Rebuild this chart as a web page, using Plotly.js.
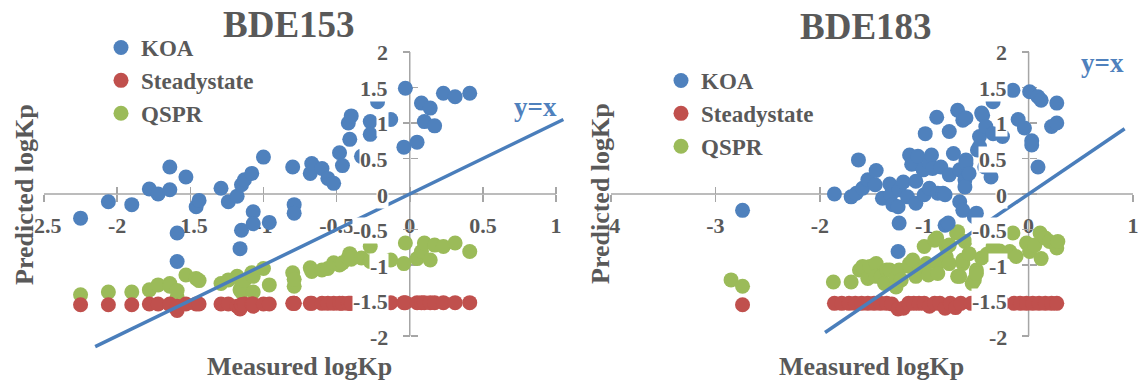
<!DOCTYPE html>
<html>
<head>
<meta charset="utf-8">
<script src="https://cdn.plot.ly/plotly-3.0.1.min.js"></script>
<style>
  html, body { margin: 0; padding: 0; background: #ffffff; }
  #chart { width: 1142px; height: 384px; }
</style>
</head>
<body>
<div id="chart"></div>
<script>
// ---------- BDE153: one measured value per compound, three predictions ----------
const measured153 = [-2.25, -2.06, -1.90, -1.78, -1.72, -1.64, -1.64, -1.59, -1.59, -1.53,
  -1.46, -1.44, -1.29, -1.24, -1.18, -1.16, -1.15, -1.15, -1.13, -1.08,
  -1.07, -1.07, -1.00, -0.96, -0.80, -0.79, -0.79, -0.68, -0.67, -0.60,
  -0.56, -0.52, -0.48, -0.46, -0.41, -0.42, -0.40, -0.33, -0.27, -0.27,
  -0.22, -0.13, -0.04, -0.03, 0.05, 0.08, 0.10, 0.14, 0.17, 0.23, 0.31, 0.41];
const koa153 = [-0.34, -0.11, -0.15, 0.07, 0.00, 0.06, 0.38, -0.55, -0.95, 0.24,
  -0.18, -0.09, 0.08, -0.11, -0.03, -0.77, 0.13, -0.51, 0.20, 0.29,
  -0.25, -0.42, 0.52, -0.40, 0.38, -0.15, -0.27, 0.29, 0.43, 0.36,
  0.22, 0.15, 0.58, 0.40, 0.77, 1.00, 1.10, 0.53, 1.02, 0.84,
  1.30, 1.05, 0.66, 1.49, 0.73, 1.28, 1.02, 1.21, 0.96, 1.42, 1.37, 1.42];
const steady153 = [-1.56, -1.56, -1.56, -1.55, -1.55, -1.55, -1.56, -1.64, -1.58, -1.55,
  -1.55, -1.55, -1.55, -1.55, -1.58, -1.62, -1.56, -1.56, -1.55, -1.55,
  -1.58, -1.55, -1.55, -1.55, -1.54, -1.54, -1.54, -1.54, -1.54, -1.54,
  -1.54, -1.54, -1.54, -1.54, -1.54, -1.54, -1.54, -1.54, -1.54, -1.54,
  -1.54, -1.53, -1.53, -1.53, -1.53, -1.53, -1.53, -1.53, -1.53, -1.53, -1.53, -1.53];
const qspr153 = [-1.42, -1.38, -1.38, -1.35, -1.28, -1.26, -1.30, -1.45, -1.36, -1.14,
  -1.19, -1.22, -1.26, -1.21, -1.16, -1.35, -1.30, -1.38, -1.22, -1.11,
  -1.38, -1.16, -1.05, -1.28, -1.11, -1.30, -1.20, -1.04, -1.09, -1.07,
  -1.05, -0.97, -1.00, -0.97, -0.84, -0.90, -0.92, -0.90, -0.74, -0.95,
  -0.95, -0.93, -0.98, -0.69, -0.91, -0.81, -0.69, -0.93, -0.72, -0.74, -0.69, -0.81];

// ---------- BDE183 ----------
const koaX183 = [-2.74, -1.86, -1.70, -1.65, -1.63, -1.59, -1.54, -1.47, -1.46, -1.40,
  -1.33, -1.32, -1.30, -1.25, -1.25, -1.24, -1.24, -1.20, -1.16, -1.14,
  -1.12, -1.09, -1.08, -1.08, -1.06, -1.01, -1.00, -0.99, -0.95, -0.95,
  -0.93, -0.92, -0.88, -0.87, -0.84, -0.82, -0.80, -0.80, -0.77, -0.76,
  -0.76, -0.72, -0.68, -0.66, -0.66, -0.63, -0.63, -0.61, -0.61, -0.60,
  -0.60, -0.60, -0.57, -0.52, -0.50, -0.49, -0.47, -0.47, -0.45, -0.44,
  -0.42, -0.41, -0.36, -0.34, -0.34, -0.25, -0.15, -0.10, -0.04, 0.01,
  0.03, 0.03, 0.09, 0.09, 0.12, 0.22, 0.27, 0.27];
const koaY183 = [-0.23, 0.00, -0.04, 0.01, 0.48, 0.08, 0.20, 0.13, 0.33, -0.06,
  0.14, -0.01, -0.15, -0.18, -0.81, 0.06, -0.41, 0.17, -0.04, 0.55,
  0.42, 0.43, 0.18, -0.13, 0.53, 0.34, -0.01, 0.85, 0.43, 0.08,
  0.55, 0.36, 1.08, 0.01, 0.38, 0.01, -0.01, -0.44, -0.41, 0.88,
  0.27, 0.57, 1.18, 0.34, -0.11, 1.04, -0.23, 0.20, 0.10, 1.07,
  0.48, 0.43, 0.29, -0.32, -0.27, 0.62, 0.81, 0.67, 1.14, 1.11,
  0.38, 0.95, 0.24, 1.30, 0.85, 0.81, 1.46, 1.05, 0.93, 1.44,
  0.75, 0.69, 1.37, 0.38, 1.32, 0.95, 1.28, 1.00];
const steadyX183 = [-2.74, -1.86, -1.79, -1.72, -1.66, -1.60, -1.54, -1.48, -1.42, -1.36,
  -1.31, -1.25, -1.20, -1.15, -1.10, -1.05, -1.00, -0.95, -0.90, -0.85,
  -0.80, -0.75, -0.70, -0.65, -0.55, -0.45, -0.35, -0.25, -0.14, -0.08,
  -0.02, 0.04, 0.10, 0.16, 0.22, 0.27];
const steadyY183 = [-1.56, -1.54, -1.54, -1.54, -1.54, -1.54, -1.54, -1.54, -1.54, -1.54,
  -1.55, -1.62, -1.61, -1.54, -1.54, -1.54, -1.54, -1.58, -1.54, -1.54,
  -1.61, -1.54, -1.60, -1.54, -1.54, -1.54, -1.54, -1.54, -1.54, -1.54,
  -1.54, -1.54, -1.54, -1.54, -1.54, -1.54];
const qsprX183 = [-2.85, -2.74, -1.87, -1.70, -1.62, -1.59, -1.54, -1.52, -1.46, -1.46,
  -1.41, -1.38, -1.36, -1.33, -1.27, -1.27, -1.24, -1.22, -1.14, -1.14,
  -1.11, -1.08, -1.04, -1.00, -0.98, -0.96, -0.90, -0.88, -0.87, -0.87,
  -0.79, -0.79, -0.76, -0.76, -0.69, -0.68, -0.68, -0.66, -0.63, -0.63,
  -0.61, -0.57, -0.54, -0.52, -0.50, -0.50, -0.45, -0.40, -0.34, -0.28,
  -0.18, -0.15, -0.12, -0.02, 0.01, 0.06, 0.11, 0.12, 0.16, 0.20, 0.27, 0.28];
const qsprY183 = [-1.21, -1.30, -1.24, -1.24, -1.07, -1.02, -1.19, -1.02, -0.98, -1.16,
  -1.16, -1.26, -1.07, -1.07, -1.31, -1.19, -1.07, -1.21, -0.98, -1.02,
  -0.93, -1.16, -1.07, -0.74, -0.98, -1.14, -0.65, -0.62, -0.98, -1.12,
  -0.88, -0.74, -0.72, -0.98, -0.55, -0.53, -1.16, -1.16, -0.98, -0.93,
  -0.67, -0.84, -1.26, -1.21, -1.07, -1.12, -0.90, -0.85, -0.74, -0.80,
  -0.81, -0.55, -0.88, -0.69, -0.81, -0.72, -0.55, -0.91, -0.62, -0.67, -0.76, -0.67];

// ---------- axes, labels, reference lines ----------
const xTicks153 = [-2.5, -2, -1.5, -1, -0.5, 0, 0.5, 1];
const xTicks183 = [-4, -3, -2, -1, 0, 1];
const yTicks = [-2, -1.5, -1, -0.5, 0, 0.5, 1, 1.5, 2];
const identity153 = [-2.15, 1.05];
const identity183 = [-1.95, 0.92];
const seriesNames = ['KOA', 'Steadystate', 'QSPR'];
const chartTitles = ['BDE153', 'BDE183'];
const xAxisTitle = 'Measured logKp';
const yAxisTitle = 'Predicted logKp';
const identityLabel = 'y=x';

// ---------- drawing ----------
const W = 1142, H = 384;
const px = v => v / W;           // pixel column -> paper x
const py = v => 1 - v / H;       // pixel row -> paper y

const FONT = 'Liberation Serif, Times New Roman, serif';
const TEXT = '#595959';
const AXIS = '#a6a6a6';
const BLUE = '#4f81bd', RED = '#c0504d', GREEN = '#9bbb59', LINE = '#4a7ebb';

const first = a => a[0];
const last = a => a[a.length - 1];

// plot boxes (pixels); the BDE153 box leaves a little room past the last
// tick so the y=x line is not cut at the axis ends
const PX_PER_Y = 71;
const box1 = { left: 44, top: 52, xScale: 146.3, xPadHi: 0.06, yPadLo: 0.2 };
const box2 = { left: 611, top: 52, xScale: 104.4, xPadHi: 0, yPadLo: 0 };

function frame(box, xt) {
  const xRange = [first(xt), last(xt) + box.xPadHi];
  const yRange = [first(yTicks) - box.yPadLo, last(yTicks)];
  const right = box.left + (xRange[1] - xRange[0]) * box.xScale;
  const bottom = box.top + (yRange[1] - yRange[0]) * PX_PER_Y;
  return {
    xRange: xRange, yRange: yRange,
    xDom: [px(box.left), px(right)],
    yDom: [py(bottom), py(box.top)]
  };
}
const f1 = frame(box1, xTicks153);
const f2 = frame(box2, xTicks183);

// paper position where the value 0 falls on an axis
const zeroAt = (dom, range) => dom[0] + (0 - range[0]) / (range[1] - range[0]) * (dom[1] - dom[0]);

const tickFont = { family: FONT, size: 22, color: TEXT, weight: 700 };

function xMainAxis(f, xt) {
  return {
    domain: f.xDom, range: f.xRange, tickvals: xt, ticktext: xt.map(String),
    anchor: 'free', position: zeroAt(f.yDom, f.yRange),
    showline: false, layer: 'below traces',
    ticks: 'outside', ticklen: 7, tickwidth: 1.5, tickcolor: AXIS,
    showticklabels: true, tickfont: tickFont, ticklabelstandoff: 5,
    showgrid: false, zeroline: false, fixedrange: true, automargin: false
  };
}
function yMainAxis(f) {
  return {
    domain: f.yDom, range: f.yRange, tickvals: yTicks,
    anchor: 'free', position: zeroAt(f.xDom, f.xRange),
    showline: false, layer: 'below traces',
    ticks: 'outside', ticklen: 7, tickwidth: 1.5, tickcolor: AXIS,
    showticklabels: false, showgrid: false, zeroline: false,
    fixedrange: true, automargin: false
  };
}
// second set of ticks on the other side so the tick marks cross the axis line
function crossAxis(over, range, tickvals, pos) {
  return {
    overlaying: over, range: range, tickvals: tickvals, anchor: 'free', position: pos,
    showline: false, layer: 'below traces',
    ticks: 'inside', ticklen: 7, tickwidth: 1.5, tickcolor: AXIS,
    showticklabels: false, showgrid: false, zeroline: false,
    fixedrange: true, automargin: false
  };
}

function markers(x, y, name, color, xa, ya, legendId, rank) {
  return {
    type: 'scatter', mode: 'markers', x: x, y: y, name: name,
    xaxis: xa, yaxis: ya, legend: legendId, legendrank: rank,
    marker: { color: color, size: 15, line: { width: 0 } },
    hoverinfo: 'skip'
  };
}
function identityLine(vals, xa, ya) {
  return {
    type: 'scatter', mode: 'lines', x: vals, y: vals, xaxis: xa, yaxis: ya,
    line: { color: LINE, width: 3.5 }, showlegend: false, hoverinfo: 'skip'
  };
}
function spacer(xa, ya) {
  return { type: 'scatter', mode: 'markers', x: [null], y: [null], xaxis: xa, yaxis: ya,
           showlegend: false, hoverinfo: 'skip' };
}

const traces = [
  markers(measured153, qspr153, seriesNames[2], GREEN, 'x', 'y', 'legend', 3),
  markers(measured153, koa153, seriesNames[0], BLUE, 'x', 'y', 'legend', 1),
  markers(measured153, steady153, seriesNames[1], RED, 'x', 'y', 'legend', 2),
  identityLine(identity153, 'x', 'y'),
  markers(qsprX183, qsprY183, seriesNames[2], GREEN, 'x2', 'y2', 'legend2', 3),
  markers(koaX183, koaY183, seriesNames[0], BLUE, 'x2', 'y2', 'legend2', 1),
  markers(steadyX183, steadyY183, seriesNames[1], RED, 'x2', 'y2', 'legend2', 2),
  identityLine(identity183, 'x2', 'y2'),
  spacer('x3', 'y3'),
  spacer('x4', 'y4')
];

// axis lines through the origin, running from the first to the last tick
function axisLines(xa, ya, xt) {
  const style = { color: AXIS, width: 1.5 };
  return [
    { type: 'line', xref: xa, yref: ya, x0: first(xt), x1: last(xt), y0: 0, y1: 0, layer: 'below', line: style },
    { type: 'line', xref: xa, yref: ya, x0: 0, x1: 0, y0: first(yTicks), y1: last(yTicks), layer: 'below', line: style }
  ];
}

// y tick labels sit on a white box, hiding the marks behind them
function yTickLabels(xa, ya) {
  return yTicks.map(v => ({
    xref: xa, yref: ya, x: 0, y: v, text: String(v), showarrow: false,
    xanchor: 'right', yanchor: 'middle', xshift: -21, yshift: -1,
    bgcolor: '#ffffff', borderpad: 0, font: tickFont
  }));
}

function text(t, x, y, size, color, angle) {
  return {
    xref: 'paper', yref: 'paper', x: px(x), y: py(y), text: t, showarrow: false,
    xanchor: 'center', yanchor: 'middle', textangle: angle || 0,
    font: { family: FONT, size: size, color: color, weight: 700 }
  };
}

const annotations = []
  .concat(yTickLabels('x', 'y'))
  .concat(yTickLabels('x2', 'y2'))
  .concat([
    text(chartTitles[0], 289, 25, 37, TEXT),
    text(chartTitles[1], 866, 26, 37, TEXT),
    text(xAxisTitle, 299, 366, 26, TEXT),
    text(xAxisTitle, 871, 366, 26, TEXT),
    text(yAxisTitle, 24, 195, 26, TEXT, -90),
    text(yAxisTitle, 600, 194, 26, TEXT, -90),
    text(identityLabel, 535, 107, 27, BLUE),
    text(identityLabel, 1102, 63, 27, BLUE)
  ]);

const legendStyle = (x, y) => ({
  x: px(x), y: py(y), xanchor: 'left', yanchor: 'top',
  bgcolor: 'rgba(0,0,0,0)', borderwidth: 0,
  font: { family: FONT, size: 23, color: TEXT, weight: 700 },
  itemclick: false, itemdoubleclick: false
});

const layout = {
  width: W, height: H,
  margin: { l: 0, r: 0, t: 0, b: 0, autoexpand: false },
  paper_bgcolor: '#ffffff', plot_bgcolor: 'rgba(0,0,0,0)',
  showlegend: true,
  legend: legendStyle(101, 26),
  legend2: legendStyle(661, 59),
  xaxis: xMainAxis(f1, xTicks153),
  yaxis: yMainAxis(f1),
  xaxis2: xMainAxis(f2, xTicks183),
  yaxis2: yMainAxis(f2),
  xaxis3: crossAxis('x', f1.xRange, xTicks153, zeroAt(f1.yDom, f1.yRange)),
  yaxis3: crossAxis('y', f1.yRange, yTicks, zeroAt(f1.xDom, f1.xRange)),
  xaxis4: crossAxis('x2', f2.xRange, xTicks183, zeroAt(f2.yDom, f2.yRange)),
  yaxis4: crossAxis('y2', f2.yRange, yTicks, zeroAt(f2.xDom, f2.xRange)),
  shapes: axisLines('x', 'y', xTicks153).concat(axisLines('x2', 'y2', xTicks183)),
  annotations: annotations
};

Plotly.newPlot('chart', traces, layout, { staticPlot: true, displayModeBar: false });
</script>
</body>
</html>
